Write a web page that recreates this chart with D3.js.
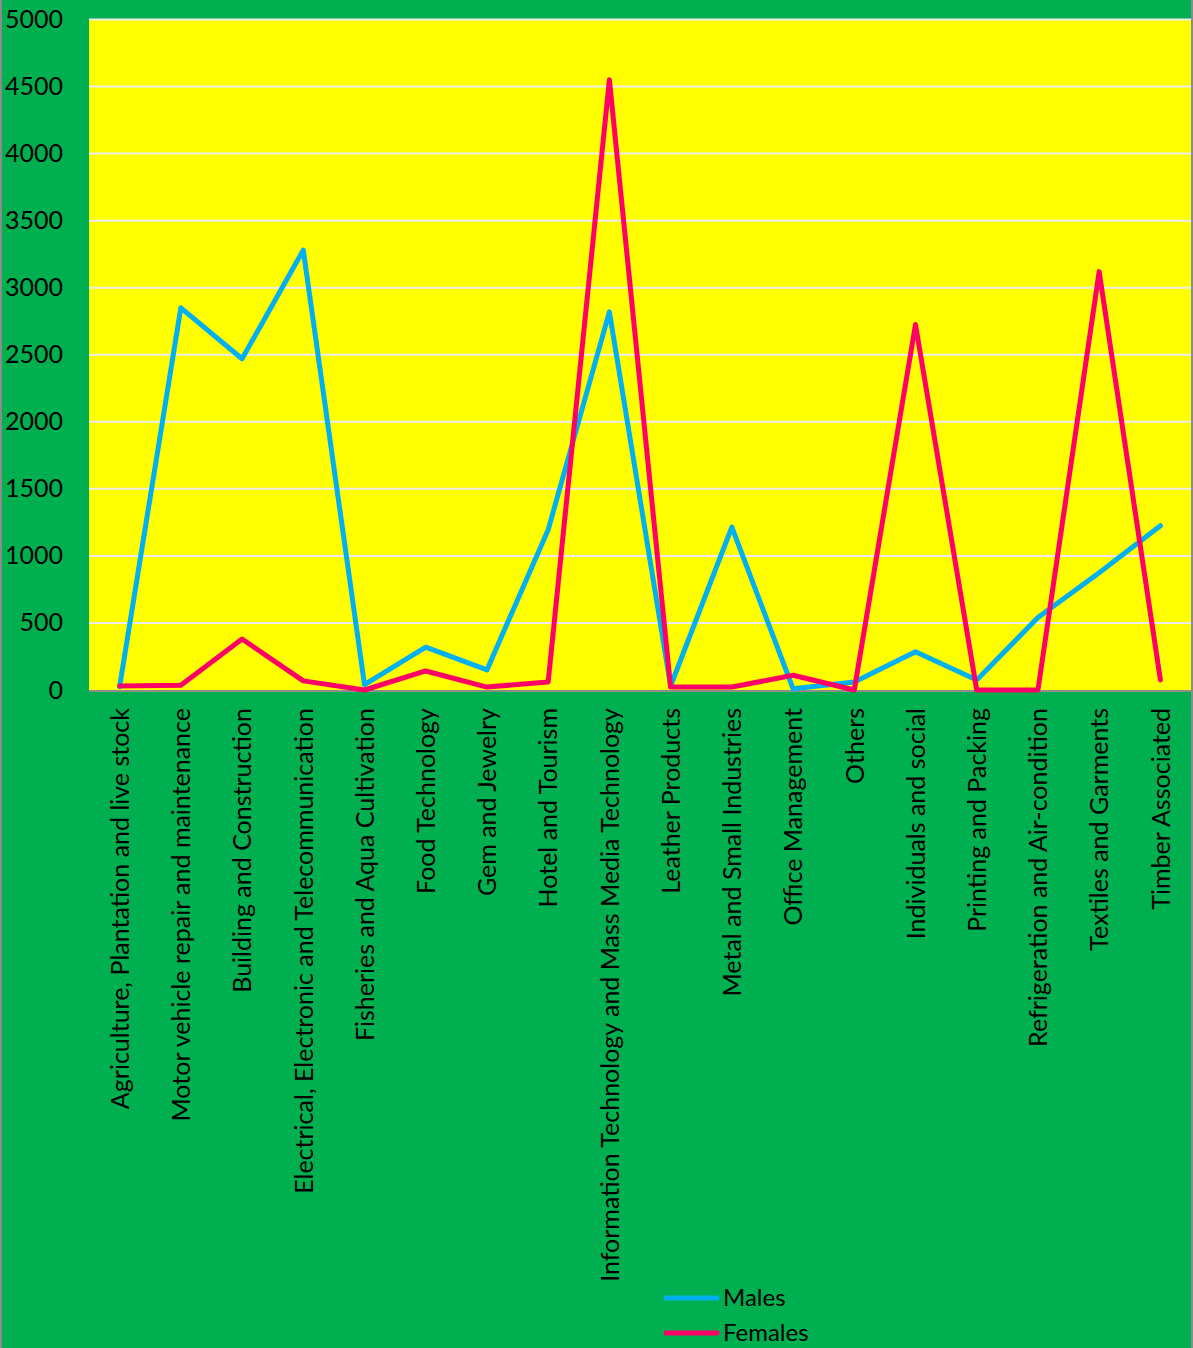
<!DOCTYPE html>
<html>
<head>
<meta charset="utf-8">
<script src="https://cdn.jsdelivr.net/npm/d3@7"></script>
<style>
  body { margin: 0; background: #fff; }
  svg { display: block; }
</style>
</head>
<body>
<div id="chart"></div>
<script>
const categories = [
  "Agriculture, Plantation and live stock",
  "Motor vehicle repair and maintenance",
  "Building and Construction",
  "Electrical, Electronic and Telecommunication",
  "Fisheries and Aqua Cultivation",
  "Food Technology",
  "Gem and Jewelry",
  "Hotel and Tourism",
  "Information Technology and Mass Media Technology",
  "Leather Products",
  "Metal and Small Industries",
  "Office Management",
  "Others",
  "Individuals and social",
  "Printing and Packing",
  "Refrigeration and Air-condition",
  "Textiles and Garments",
  "Timber Associated"
];
const males = [25, 2850, 2470, 3280, 40, 320, 150, 1195, 2820, 30, 1215, 10, 60, 285, 75, 540, 875, 1225];
const females = [30, 35, 380, 68, 0, 142, 22, 60, 4550, 22, 22, 110, 0, 2725, 0, 0, 3120, 75];
const yTicks = [0, 500, 1000, 1500, 2000, 2500, 3000, 3500, 4000, 4500, 5000];
const seriesNames = ["Males", "Females"];
const seriesColors = ["#00B0F0", "#FF0066"];

const W = 1193, H = 1348;
const plot = { left: 89, right: 1191, top: 19.5, bottom: 690 };
const font = "Lato, 'Noto Sans', sans-serif";

const svg = d3.select("#chart").append("svg")
  .attr("width", W).attr("height", H);

svg.append("rect").attr("width", W).attr("height", H).attr("fill", "#00B050");
// thin grey frame on the sides
svg.append("rect").attr("x", 0).attr("y", 0).attr("width", 2).attr("height", H).attr("fill", "#8c8c8c");
svg.append("rect").attr("x", W - 2).attr("y", 0).attr("width", 2).attr("height", H).attr("fill", "#8c8c8c");

svg.append("rect")
  .attr("x", plot.left).attr("y", plot.top)
  .attr("width", plot.right - plot.left).attr("height", plot.bottom - plot.top)
  .attr("fill", "#FFFF00");

const x = d3.scalePoint().domain(categories).range([plot.left, plot.right]).padding(0.5);
const y = d3.scaleLinear().domain([0, 5000]).range([plot.bottom, plot.top]);

// gridlines
svg.append("g").selectAll("line")
  .data(yTicks.filter(d => d > 0))
  .join("line")
  .attr("x1", plot.left).attr("x2", plot.right)
  .attr("y1", d => y(d)).attr("y2", d => y(d))
  .attr("stroke", "#ECECEC").attr("stroke-width", 2);

// y axis labels
const yAxis = svg.append("g")
  .attr("transform", `translate(${plot.left},0)`)
  .call(d3.axisLeft(y).tickValues(yTicks).tickFormat(d3.format("d")).tickSize(0).tickPadding(26));
yAxis.select(".domain").remove();
yAxis.selectAll("text")
  .attr("font-family", font)
  .attr("font-size", 25)
  .attr("fill", "#000");

// x axis labels
const xAxis = svg.append("g")
  .attr("transform", `translate(0,${plot.bottom})`)
  .call(d3.axisBottom(x).tickSize(0));
xAxis.select(".domain").remove();
xAxis.selectAll("text")
  .attr("font-family", font)
  .attr("font-size", 25)
  .attr("fill", "#000")
  .attr("transform", "rotate(-90)")
  .attr("text-anchor", "end")
  .attr("x", -18)
  .attr("y", 0)
  .attr("dy", "0.35em");

// category axis line
svg.append("line")
  .attr("x1", plot.left).attr("x2", plot.right)
  .attr("y1", plot.bottom + 1).attr("y2", plot.bottom + 1)
  .attr("stroke", "#8c8c8c").attr("stroke-width", 2);

const line = d3.line()
  .x((d, i) => x(categories[i]))
  .y(d => y(d));

[males, females].forEach((vals, k) => {
  svg.append("path")
    .datum(vals)
    .attr("d", line)
    .attr("fill", "none")
    .attr("stroke", seriesColors[k])
    .attr("stroke-width", 5)
    .attr("stroke-linejoin", "round")
    .attr("stroke-linecap", "round");
});

// legend
const legend = svg.append("g");
seriesNames.forEach((name, k) => {
  const ly = 1298 + k * 35;
  legend.append("line")
    .attr("x1", 666).attr("x2", 717)
    .attr("y1", ly).attr("y2", ly)
    .attr("stroke", seriesColors[k])
    .attr("stroke-width", 5)
    .attr("stroke-linecap", "round");
  legend.append("text")
    .attr("x", 723).attr("y", ly)
    .attr("dy", "0.35em")
    .attr("font-family", font)
    .attr("font-size", 24)
    .attr("fill", "#000")
    .text(name);
});
</script>
</body>
</html>
